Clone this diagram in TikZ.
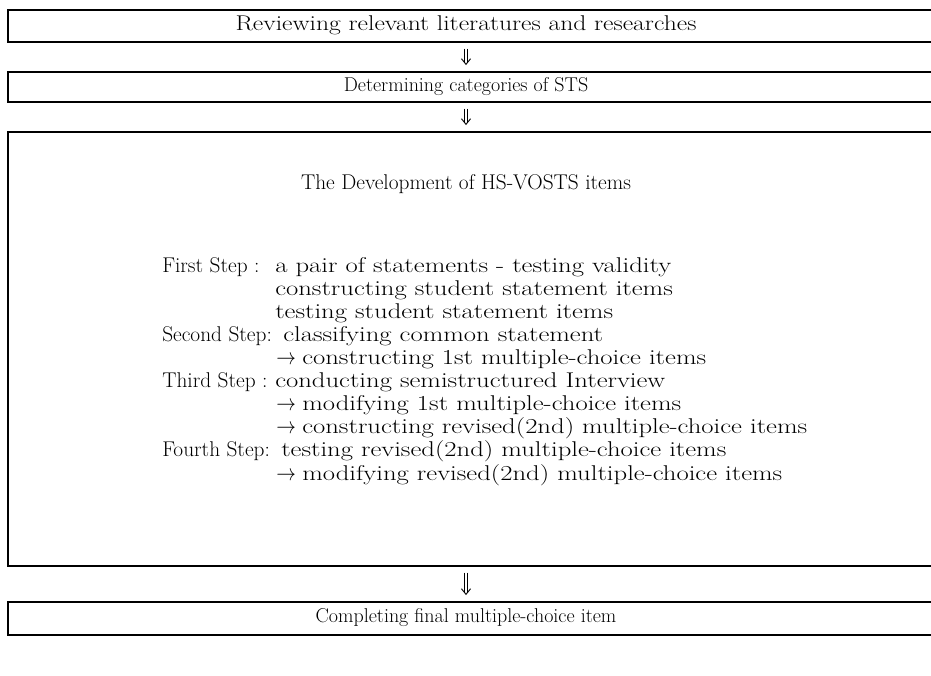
\documentclass[tikz,border=0pt]{standalone}
\usepackage{fontspec}
\newcommand\wtxt[1]{\scalebox{1.25}[1]{#1}}
\newcommand\rarr{\scalebox{0.85}[1]{$\rightarrow$}}
\newcommand\steplab[2]{\makebox[#1][l]{#2}}
\begin{document}
\begin{tikzpicture}[x=0.75pt,y=-0.75pt,
  box/.style={draw, line width=1.3pt, minimum width=720pt, inner sep=0pt, anchor=north west},
  txt/.style={font=\fontsize{15}{18}\selectfont, inner sep=0pt},
  wide/.style={font=\fontsize{16}{19}\selectfont, inner sep=0pt, anchor=base west},
  arr/.style={line width=0.7pt}]
\useasboundingbox (0,0) rectangle (931,675);
\clip (0,0) rectangle (931,675);
% boxes
\node[box, minimum height=24pt] (b1) at (7,9) {};
\node[box, minimum height=22.5pt] (b2) at (7,71) {};
\node[box, minimum height=325.5pt] (b3) at (7,131) {};
\node[box, minimum height=25pt] (b4) at (7,601) {};
% box texts
\node[txt, anchor=base, font=\fontsize{16}{19}\selectfont] (t1) at (466,30) {\scalebox{1.2}[1]{Reviewing relevant literatures and researches}};
\node[txt, anchor=base] (t2) at (466,91) {Determining categories of STS};
\node[txt, anchor=base, font=\fontsize{16}{19}\selectfont] (t3) at (466,189) {The Development of HS-VOSTS items};
\node[txt, anchor=base] (t4) at (466,622) {Completing final multiple-choice item};
% step lines
\node[wide] (s1) at (162,272) {\steplab{84.75pt}{First Step :}\wtxt{a pair of statements - testing validity}};
\node[wide] (s1b) at (275,295) {\wtxt{constructing student statement items}};
\node[wide] (s1c) at (275,318) {\wtxt{testing student statement items}};
\node[wide] (s2) at (162,341) {\steplab{90.75pt}{Second Step:}\wtxt{classifying common statement}};
\node[wide] (s2b) at (276,364) {\rarr\ \wtxt{constructing 1st multiple-choice items}};
\node[wide] (s3) at (162,387) {\steplab{84.75pt}{Third Step :}\wtxt{conducting semistructured Interview}};
\node[wide] (s3b) at (276,410) {\rarr\ \wtxt{modifying 1st multiple-choice items}};
\node[wide] (s3c) at (276,433) {\rarr\ \wtxt{constructing revised(2nd) multiple-choice items}};
\node[wide] (s4) at (162,456) {\steplab{89.25pt}{Fourth Step:}\wtxt{testing revised(2nd) multiple-choice items}};
\node[wide] (s4b) at (276,480) {\rarr\ \wtxt{modifying revised(2nd) multiple-choice items}};
% connectors (double arrows)
\foreach \a/\b in {b1/b2, b2/b3, b3/b4}{
  \coordinate (p) at (\a.south -| t1);
  \coordinate (q) at (\b.north -| t1);
  \draw[arr] ([xshift=-1.4pt,yshift=-4.5pt]p) -- ([xshift=-1.4pt,yshift=6.8pt]q);
  \draw[arr] ([xshift=1.4pt,yshift=-4.5pt]p) -- ([xshift=1.4pt,yshift=6.8pt]q);
  \draw[arr, line join=miter] ([xshift=-3.4pt,yshift=9.2pt]q) -- ([yshift=5pt]q) -- ([xshift=3.4pt,yshift=9.2pt]q);
}
\end{tikzpicture}
\end{document}
